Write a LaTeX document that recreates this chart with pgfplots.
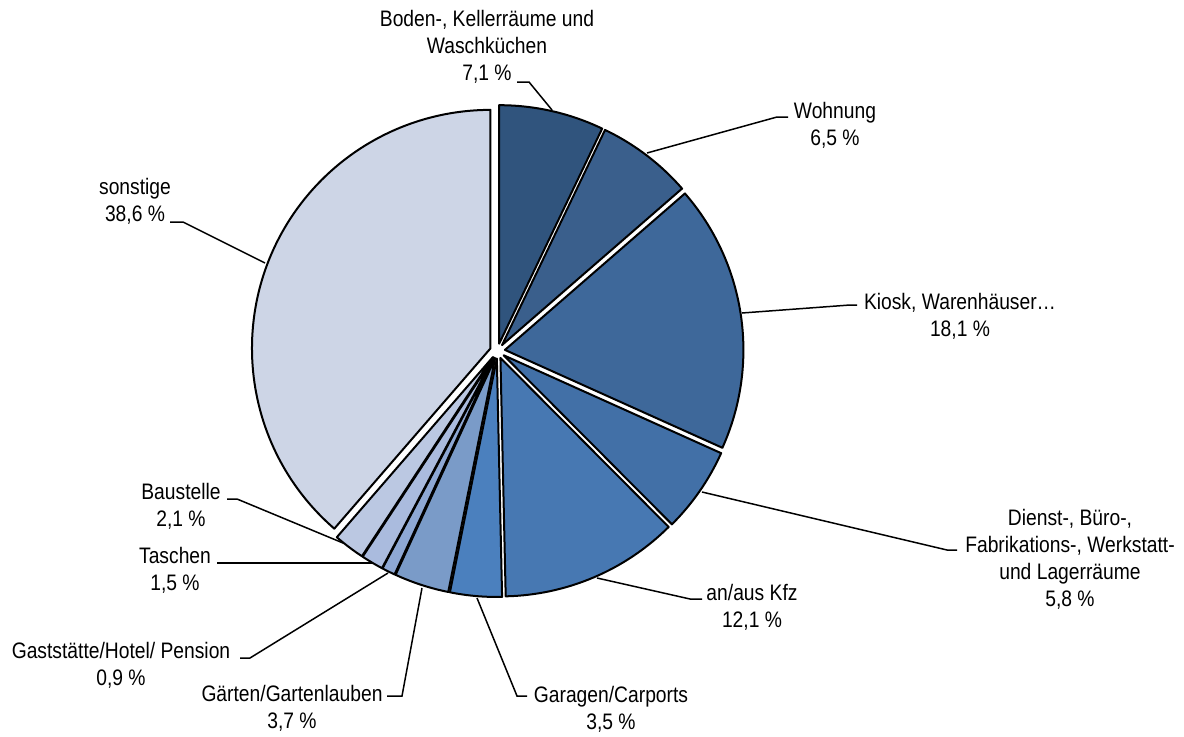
\documentclass[border=0pt]{standalone}
\usepackage{pgfplots}
\pgfplotsset{compat=1.18}
\usepackage{pgfplotstable}
\usepackage{fontspec}
\setmainfont[FakeStretch=0.86]{Liberation Sans}

\definecolor{c0}{RGB}{48,84,125}
\definecolor{c1}{RGB}{58,95,140}
\definecolor{c2}{RGB}{62,104,154}
\definecolor{c3}{RGB}{66,112,167}
\definecolor{c4}{RGB}{71,120,178}
\definecolor{c5}{RGB}{75,128,190}
\definecolor{c6}{RGB}{122,155,200}
\definecolor{c7}{RGB}{142,168,212}
\definecolor{c8}{RGB}{170,187,222}
\definecolor{c9}{RGB}{187,200,226}
\definecolor{c10}{RGB}{205,213,230}

\pgfplotstableread{
name val
Boden 7.1
Wohnung 6.5
Kiosk 18.1
Dienst 5.8
Kfz 12.1
Garagen 3.5
Gaerten 3.7
Gast 0.9
Taschen 1.5
Baustelle 2.1
sonstige 38.6
}\piedata

\newcommand\lf{\fontsize{11.2}{13.5}\selectfont}
\tikzset{lbl/.style={align=center, font=\lf, inner sep=0pt, text=black},
  ldr/.style={draw=black, line width=0.75pt}}

\begin{document}
\begin{tikzpicture}
\xdef\cum{0}
\foreach \i in {0,...,10}{%
  \pgfplotstablegetelem{\i}{val}\of\piedata
  \let\myv\pgfplotsretval
  \pgfmathsetmacro{\sa}{90-\cum/99.9*360}%
  \pgfmathsetmacro{\ea}{90-(\cum+\myv)/99.9*360}%
  \pgfmathsetmacro{\ma}{(\sa+\ea)/2}%
  \pgfmathsetmacro{\ax}{497.5+7.5*cos(\ma)}%
  \pgfmathsetmacro{\ay}{385+7.5*sin(\ma)}%
  \expandafter\xdef\csname sa\i\endcsname{\sa}%
  \expandafter\xdef\csname ea\i\endcsname{\ea}%
  \expandafter\xdef\csname ax\i\endcsname{\ax}%
  \expandafter\xdef\csname ay\i\endcsname{\ay}%
  \pgfmathsetmacro{\nc}{\cum+\myv}%
  \xdef\cum{\nc}%
}
\begin{axis}[hide axis, scale only axis, x=0.5pt, y=0.5pt,
  xmin=0, xmax=1184, ymin=0, ymax=736, clip=false]
\path (axis cs:0,0) rectangle (axis cs:1184,736);
\pgfplotsinvokeforeach{0,...,10}{
  \filldraw[fill=c#1, draw=black, line width=1pt, line join=round]
   (axis cs:\csname ax#1\endcsname,\csname ay#1\endcsname) -- ++(\csname sa#1\endcsname:119.25pt)
   arc[start angle=\csname sa#1\endcsname, end angle=\csname ea#1\endcsname, radius=119.25pt] -- cycle;
}
% leader lines
\draw[ldr] (axis cs:517,654) -- (axis cs:529,654) -- (axis cs:552,626);
\draw[ldr] (axis cs:788,619) -- (axis cs:777,619) -- (axis cs:647,583);
\draw[ldr] (axis cs:857,431) -- (axis cs:850,431) -- (axis cs:742,423);
\draw[ldr] (axis cs:957,186) -- (axis cs:947,186) -- (axis cs:702,244);
\draw[ldr] (axis cs:702,137) -- (axis cs:690,137) -- (axis cs:597,158);
\draw[ldr] (axis cs:527,40) -- (axis cs:517,40) -- (axis cs:477,138);
\draw[ldr] (axis cs:387,40) -- (axis cs:402,40) -- (axis cs:422,148);
\draw[ldr] (axis cs:240,78) -- (axis cs:250,78) -- (axis cs:388,163);
\draw[ldr] (axis cs:217,173) -- (axis cs:372,173);
\draw[ldr] (axis cs:227,237) -- (axis cs:237,237) -- (axis cs:343,193);
\draw[ldr] (axis cs:170,514) -- (axis cs:183,514) -- (axis cs:265,473);
% labels
\node[lbl] at (axis cs:487,689) {Boden-, Kellerräume und\\Waschküchen\\7,1 \%};
\node[lbl] at (axis cs:835,610.5) {Wohnung\\6,5 \%};
\node[lbl] at (axis cs:960,420) {Kiosk, Warenhäuser…\\18,1 \%};
\node[lbl] at (axis cs:1070,177) {Dienst-, Büro-,\\Fabrikations-, Werkstatt-\\und Lagerräume\\5,8 \%};
\node[lbl] at (axis cs:752,128.5) {an/aus Kfz\\12,1 \%};
\node[lbl] at (axis cs:611,27) {Garagen/Carports\\3,5 \%};
\node[lbl] at (axis cs:292,28) {Gärten/Gartenlauben\\3,7 \%};
\node[lbl] at (axis cs:121,71) {Gaststätte/Hotel/ Pension\\0,9 \%};
\node[lbl] at (axis cs:175,166) {Taschen\\1,5 \%};
\node[lbl] at (axis cs:181,230) {Baustelle\\2,1 \%};
\node[lbl] at (axis cs:135,535) {sonstige\\38,6 \%};
\end{axis}
\end{tikzpicture}
\end{document}
